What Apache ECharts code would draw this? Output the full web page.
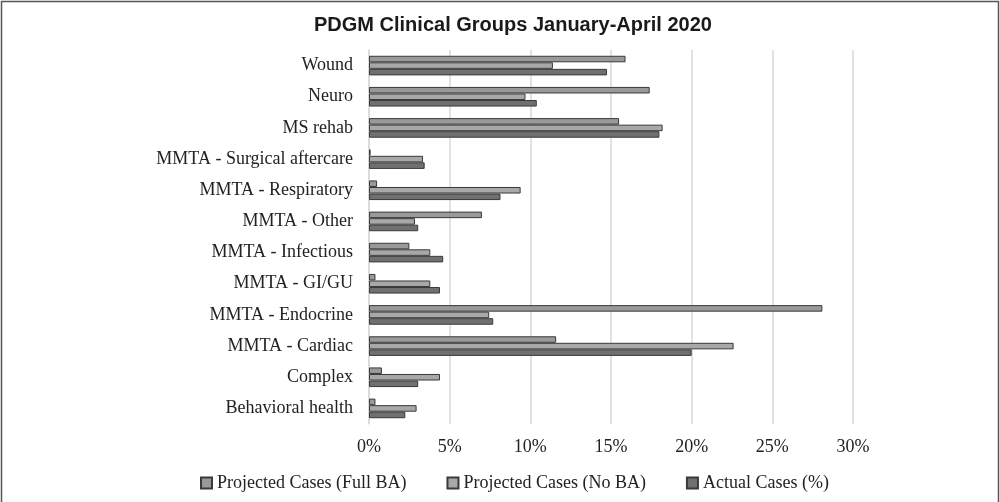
<!DOCTYPE html>
<html><head><meta charset="utf-8">
<script src="https://cdn.jsdelivr.net/npm/echarts@6/dist/echarts.min.js"></script>
<style>html,body{margin:0;padding:0;background:#fff}#c{width:1000px;height:502px}</style>
</head><body><div id="c"></div>
<script>
const categories = ["Wound","Neuro","MS rehab","MMTA - Surgical aftercare","MMTA - Respiratory","MMTA - Other","MMTA - Infectious","MMTA - GI/GU","MMTA - Endocrine","MMTA - Cardiac","Complex","Behavioral health"];
const seriesNames = ["Projected Cases (Full BA)","Projected Cases (No BA)","Actual Cases (%)"];
const fullBA = [15.9, 17.4, 15.5, 0.1, 0.5, 7.0, 2.5, 0.4, 28.1, 11.6, 0.8, 0.4];
const noBA   = [11.4, 9.7, 18.2, 3.35, 9.4, 2.85, 3.8, 3.8, 7.45, 22.6, 4.4, 2.95];
const actual = [14.75, 10.4, 18.0, 3.45, 8.15, 3.05, 4.6, 4.4, 7.7, 20.0, 3.05, 2.25];
const xTicks = [0,5,10,15,20,25,30];

const colors = ["#999999","#a8a8a8","#707070"];
const values = [fullBA, noBA, actual];
const serif = "'Liberation Serif','Times New Roman',serif";

const chart = echarts.init(document.getElementById('c'));
chart.setOption({
  animation:false,
  title:{text:"PDGM Clinical Groups January-April 2020",left:309,top:10,
    textStyle:{fontFamily:"'Liberation Sans',Arial,sans-serif",fontWeight:'bold',fontSize:20,color:'#1a1a1a'}},
  legend:{top:469,left:195,itemWidth:11,itemHeight:11,itemGap:40,
    icon:'rect',
    textStyle:{fontFamily:serif,fontSize:18,color:'#222'},
    data:seriesNames},
  grid:{left:369,right:147,top:50,bottom:78,containLabel:false},
  xAxis:{type:'value',min:xTicks[0],max:xTicks[xTicks.length-1],interval:5,
    axisLine:{show:false},axisTick:{show:false},
    axisLabel:{formatter:v=>v+'%',fontFamily:serif,fontSize:18,color:'#222',margin:14},
    splitLine:{lineStyle:{color:'#d9d9d9',width:1.5}}},
  yAxis:{type:'category',data:categories,inverse:true,
    axisLine:{show:true,lineStyle:{color:'#d9d9d9',width:1.5}},axisTick:{show:false},
    axisLabel:{fontFamily:serif,fontSize:18,color:'#222',margin:16}},
  series: values.map((d,i)=>({
    name:seriesNames[i],type:'bar',data:d,
    barGap:'0%',barCategoryGap:'37%',
    itemStyle:{color:colors[i],borderColor:'#3a3a3a',borderWidth:1}
  })),
  graphic:[{type:'rect',shape:{x:1.5,y:1.5,width:997,height:520},style:{fill:'none',stroke:'#555',lineWidth:1.5},silent:true}]
});
</script></body></html>
